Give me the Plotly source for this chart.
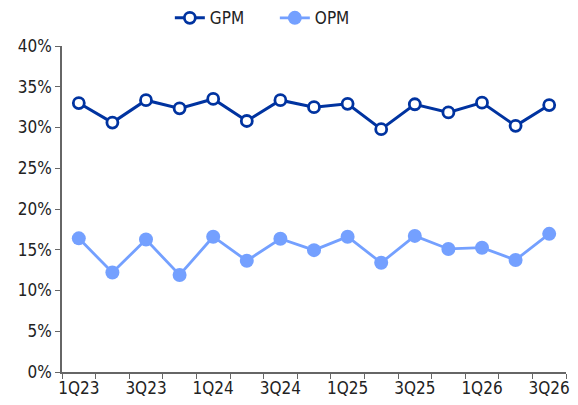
import plotly.graph_objects as go

quarters = ["1Q23", "2Q23", "3Q23", "4Q23", "1Q24", "2Q24", "3Q24", "4Q24",
            "1Q25", "2Q25", "3Q25", "4Q25", "1Q26", "2Q26", "3Q26"]
gpm = [33.0, 30.6, 33.35, 32.35, 33.5, 30.8, 33.35, 32.5, 32.9, 29.8, 32.85, 31.85, 33.05, 30.2, 32.75]
opm = [16.4, 12.2, 16.25, 11.9, 16.6, 13.65, 16.35, 14.95, 16.6, 13.4, 16.7, 15.1, 15.25, 13.75, 16.95]
tick_text = [q if i % 2 == 0 else "" for i, q in enumerate(quarters)]

DARK = "#0033A0"
LIGHT = "#74A0FF"
FONT = "DejaVu Sans Condensed, Liberation Sans, sans-serif"

fig = go.Figure()
fig.add_trace(go.Scatter(
    x=quarters, y=gpm, name="GPM", mode="lines+markers",
    line=dict(color=DARK, width=3),
    marker=dict(symbol="circle", size=11, color="white", line=dict(color=DARK, width=2.8)),
))
fig.add_trace(go.Scatter(
    x=quarters, y=opm, name="OPM", mode="lines+markers",
    line=dict(color=LIGHT, width=2.8),
    marker=dict(symbol="circle", size=14, color=LIGHT),
))

# page body has an 8px margin, so the figure is shifted by (8, 8) in the window
fig.update_layout(
    width=578, height=405,
    margin=dict(l=54, r=20, t=38, b=41, autoexpand=False),
    plot_bgcolor="white", paper_bgcolor="white",
    font=dict(family=FONT, size=17, color="#222222"),
    showlegend=True,
    legend=dict(orientation="h", xref="container", x=0.28, xanchor="left",
                yref="paper", y=1.085, yanchor="middle",
                entrywidth=60, entrywidthmode="pixels",
                font=dict(size=17), traceorder="normal"),
    xaxis=dict(
        type="category", range=[-0.5, 14.5],
        tickvals=quarters, ticktext=tick_text, tickson="boundaries",
        tickangle=0,
        ticks="outside", ticklen=5, tickcolor="#666666",
        showline=True, linecolor="#666666", linewidth=1.5,
        showgrid=False, zeroline=False,
    ),
    yaxis=dict(
        range=[0, 40], dtick=5, ticksuffix="%",
        ticks="outside", ticklen=5, tickcolor="#666666",
        showline=True, linecolor="#666666", linewidth=1.5,
        showgrid=False, zeroline=False,
    ),
)

fig.write_html("out.html")
